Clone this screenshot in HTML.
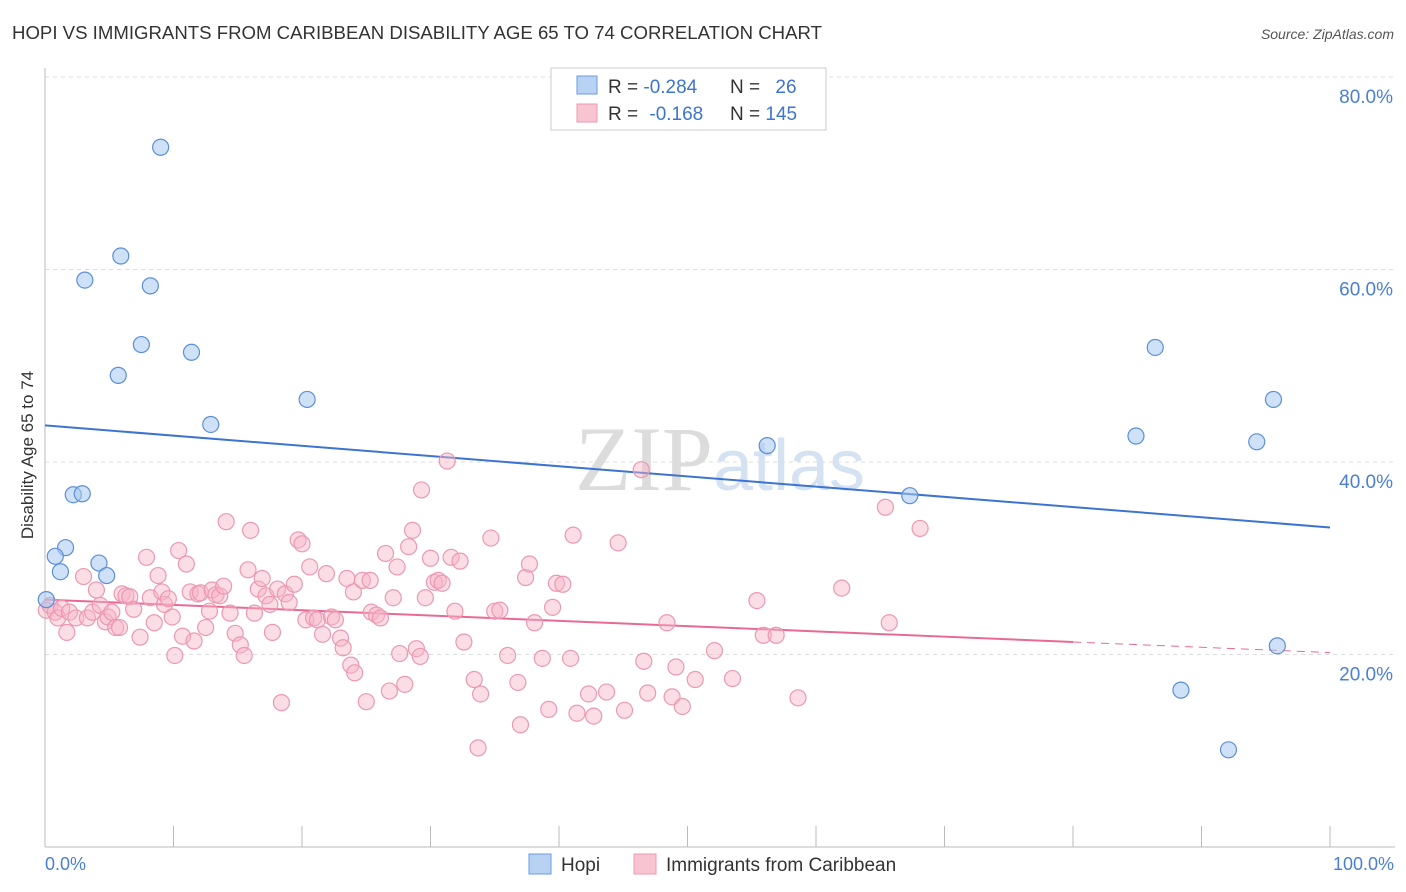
<!DOCTYPE html>
<html><head><meta charset="utf-8"><style>
body{margin:0;background:#fff;font-family:"Liberation Sans",sans-serif;}
svg{display:block}
</style></head><body>
<svg id="chart" width="1406" height="892">
<text x="12" y="39" font-size="18" fill="#333" textLength="810" lengthAdjust="spacingAndGlyphs">HOPI VS IMMIGRANTS FROM CARIBBEAN DISABILITY AGE 65 TO 74 CORRELATION CHART</text>
<text x="1394" y="39" font-size="14" fill="#555" font-style="italic" text-anchor="end">Source: ZipAtlas.com</text>
<text x="720" y="490" font-size="92" fill="#dcdcdc" text-anchor="middle" font-family="Liberation Serif,serif">ZIP<tspan fill="#d5e2f2" font-family="Liberation Sans,sans-serif" font-size="72">atlas</tspan></text>
<g id="grid"></g>
<g id="axes"></g>
<g id="lines"></g>
<g id="pts"></g>
<text transform="translate(33,455) rotate(-90)" font-size="17" fill="#333" text-anchor="middle">Disability Age 65 to 74</text>
<text x="45" y="870" font-size="18" fill="#4a7fd4">0.0%</text>
<text x="1394" y="870" font-size="18" fill="#4a7fd4" text-anchor="end">100.0%</text>
<g>
<rect x="551" y="68" width="275" height="62" fill="#fff" stroke="#ccc"/>
<rect x="577" y="76" width="20" height="18" fill="#b8d2f4" stroke="#6b9be0"/>
<rect x="577" y="104" width="20" height="18" fill="#f8c4d2" stroke="#ec98b2"/>
<text x="608" y="93" font-size="19" fill="#333">R = <tspan fill="#3d74d0">-0.284</tspan></text>
<text x="730" y="93" font-size="19" fill="#333">N = <tspan fill="#3d74d0" dx="10">26</tspan></text>
<text x="608" y="120" font-size="19" fill="#333">R = <tspan fill="#3d74d0" dx="6">-0.168</tspan></text>
<text x="730" y="120" font-size="19" fill="#333">N = <tspan fill="#3d74d0">145</tspan></text>
</g>
<g>
<rect x="529" y="854" width="22" height="20" fill="#b8d2f4" stroke="#6b9be0"/>
<text x="561" y="871" font-size="19" fill="#333">Hopi</text>
<rect x="634" y="854" width="22" height="20" fill="#f8c4d2" stroke="#ec98b2"/>
<text x="666" y="871" font-size="19" fill="#333">Immigrants from Caribbean</text>
</g>
</svg>
<script>
const yTicks=[20,40,60,80];
const xTicks=[0,10,20,30,40,50,60,70,80,90,100];
const hopiX=[9.0,5.9,3.1,8.2,7.5,11.4,5.7,20.4,12.9,2.2,2.9,1.6,0.8,1.2,4.2,4.8,0.1,56.2,67.3,86.4,84.9,95.6,94.3,95.9,88.4,92.1];
const hopiY=[72.7,61.4,58.9,58.3,52.2,51.4,49.0,46.5,43.9,36.6,36.7,31.1,30.2,28.6,29.5,28.2,25.7,41.7,36.5,51.9,42.7,46.5,42.1,20.9,16.3,10.1];
const caribX=[0.1,0.4,0.8,1.0,1.3,1.7,1.9,2.4,3.0,3.3,3.7,4.0,4.3,4.7,4.9,5.2,5.5,5.8,6.0,6.3,6.6,6.9,7.4,7.9,8.2,8.5,8.8,9.1,9.3,9.6,9.9,10.1,10.4,10.7,11.0,11.3,11.6,11.9,12.1,12.5,12.8,13.0,13.3,13.6,13.9,14.1,14.4,14.8,15.2,15.5,15.8,16.0,16.3,16.6,16.9,17.2,17.5,17.7,18.1,18.4,18.7,19.0,19.4,19.7,20.0,20.3,20.6,20.9,21.2,21.6,21.9,22.3,22.6,23.0,23.2,23.5,23.8,24.0,24.1,24.7,25.0,25.3,25.4,25.8,26.1,26.5,26.8,27.1,27.4,27.6,28.0,28.3,28.6,28.9,29.2,29.3,29.6,30.0,30.3,30.6,30.9,31.3,31.6,31.9,32.3,32.6,33.4,33.7,33.9,34.7,35.0,35.4,36.0,36.8,37.0,37.4,37.7,38.1,38.7,39.2,39.5,39.8,40.3,40.9,41.1,41.4,42.3,42.7,43.7,44.6,45.1,46.4,46.6,46.9,48.4,48.8,49.1,49.6,50.6,52.1,53.5,55.4,55.9,56.9,58.6,62.0,65.4,65.7,68.1];
const caribY=[24.6,25.1,24.4,23.8,24.8,22.3,24.4,23.8,28.1,23.8,24.4,26.7,25.1,23.4,23.9,24.4,22.8,22.8,26.3,26.1,26.0,24.7,21.8,30.1,25.9,23.3,28.2,26.5,25.2,25.8,23.9,19.9,30.8,21.9,29.4,26.5,21.4,26.3,26.4,22.8,24.5,26.7,26.2,26.1,27.1,33.8,24.3,22.2,21.0,19.9,28.8,32.9,24.3,26.8,27.9,26.1,25.2,22.3,26.8,15.0,26.3,25.4,27.3,31.9,31.5,23.6,29.1,23.8,23.6,22.1,28.4,23.9,23.6,21.7,20.7,27.9,18.9,26.5,18.1,27.7,15.1,27.7,24.4,24.1,23.8,30.5,16.2,25.9,29.1,20.1,16.9,31.2,32.9,20.6,19.8,37.1,25.9,30.0,27.5,27.7,27.4,40.1,30.1,24.5,29.7,21.3,17.4,10.3,15.9,32.1,24.5,24.6,19.9,17.1,12.7,28.0,29.4,23.3,19.6,14.3,24.9,27.4,27.3,19.6,32.4,13.9,15.9,13.6,16.1,31.6,14.2,39.2,19.3,16.0,23.3,15.6,18.7,14.6,17.4,20.4,17.5,25.6,22.0,22.0,15.5,26.9,35.3,23.3,33.1];
const hopiLine=[43.8,33.2];
const caribLine=[25.7,20.2];
const caribSolidEnd=80;
const NS="http://www.w3.org/2000/svg";
const sx=v=>45+v*12.85;
const sy=v=>847-v*9.625;
function mk(tag,attrs,parent){const e=document.createElementNS(NS,tag);for(const k in attrs)e.setAttribute(k,attrs[k]);document.getElementById(parent).appendChild(e);return e;}
yTicks.forEach(t=>{
 const l=mk('line',{x1:45,x2:1395,y1:sy(t),y2:sy(t),stroke:'#ddd','stroke-dasharray':'4,4'},'grid');
 
 
 const tx=mk('text',{x:1393,y:sy(t)+26,'font-size':19,fill:'#4a7fd4','text-anchor':'end'},'grid');
 tx.textContent=t.toFixed(1)+'%';
 
 
});
const ax=mk('line',{x1:45,x2:1395,y1:847,y2:847,stroke:'#bbb'},'axes');


const ay=mk('line',{x1:45,x2:45,y1:68,y2:847,stroke:'#bbb'},'axes');


xTicks.forEach(t=>{
 const l=mk('line',{x1:sx(t),x2:sx(t),y1:826,y2:847,stroke:'#bbb'},'axes');
 
 
});
const hl=mk('line',{x1:sx(0),x2:sx(100),y1:sy(hopiLine[0]),y2:sy(hopiLine[1]),stroke:'#3d74d0','stroke-width':2},'lines');


const cAt=x=>caribLine[0]+(caribLine[1]-caribLine[0])*x/100;
const cl=mk('line',{x1:sx(0),x2:sx(caribSolidEnd),y1:sy(cAt(0)),y2:sy(cAt(caribSolidEnd)),stroke:'#e86a94','stroke-width':2},'lines');


const cd=mk('line',{x1:sx(caribSolidEnd),x2:sx(100),y1:sy(cAt(caribSolidEnd)),y2:sy(cAt(100)),stroke:'#e86a94','stroke-width':1,'stroke-dasharray':'8,6'},'lines');


caribX.forEach((x,i)=>{
 const c=mk('circle',{cx:sx(x),cy:sy(caribY[i]),r:8,fill:'rgba(246,180,200,0.45)',stroke:'#ec98b2','stroke-width':1.2},'pts');
 
 
});
hopiX.forEach((x,i)=>{
 const c=mk('circle',{cx:sx(x),cy:sy(hopiY[i]),r:8,fill:'rgba(168,200,240,0.55)',stroke:'#5b8fd8','stroke-width':1.2},'pts');
 
 
});
</script>
</body></html>
